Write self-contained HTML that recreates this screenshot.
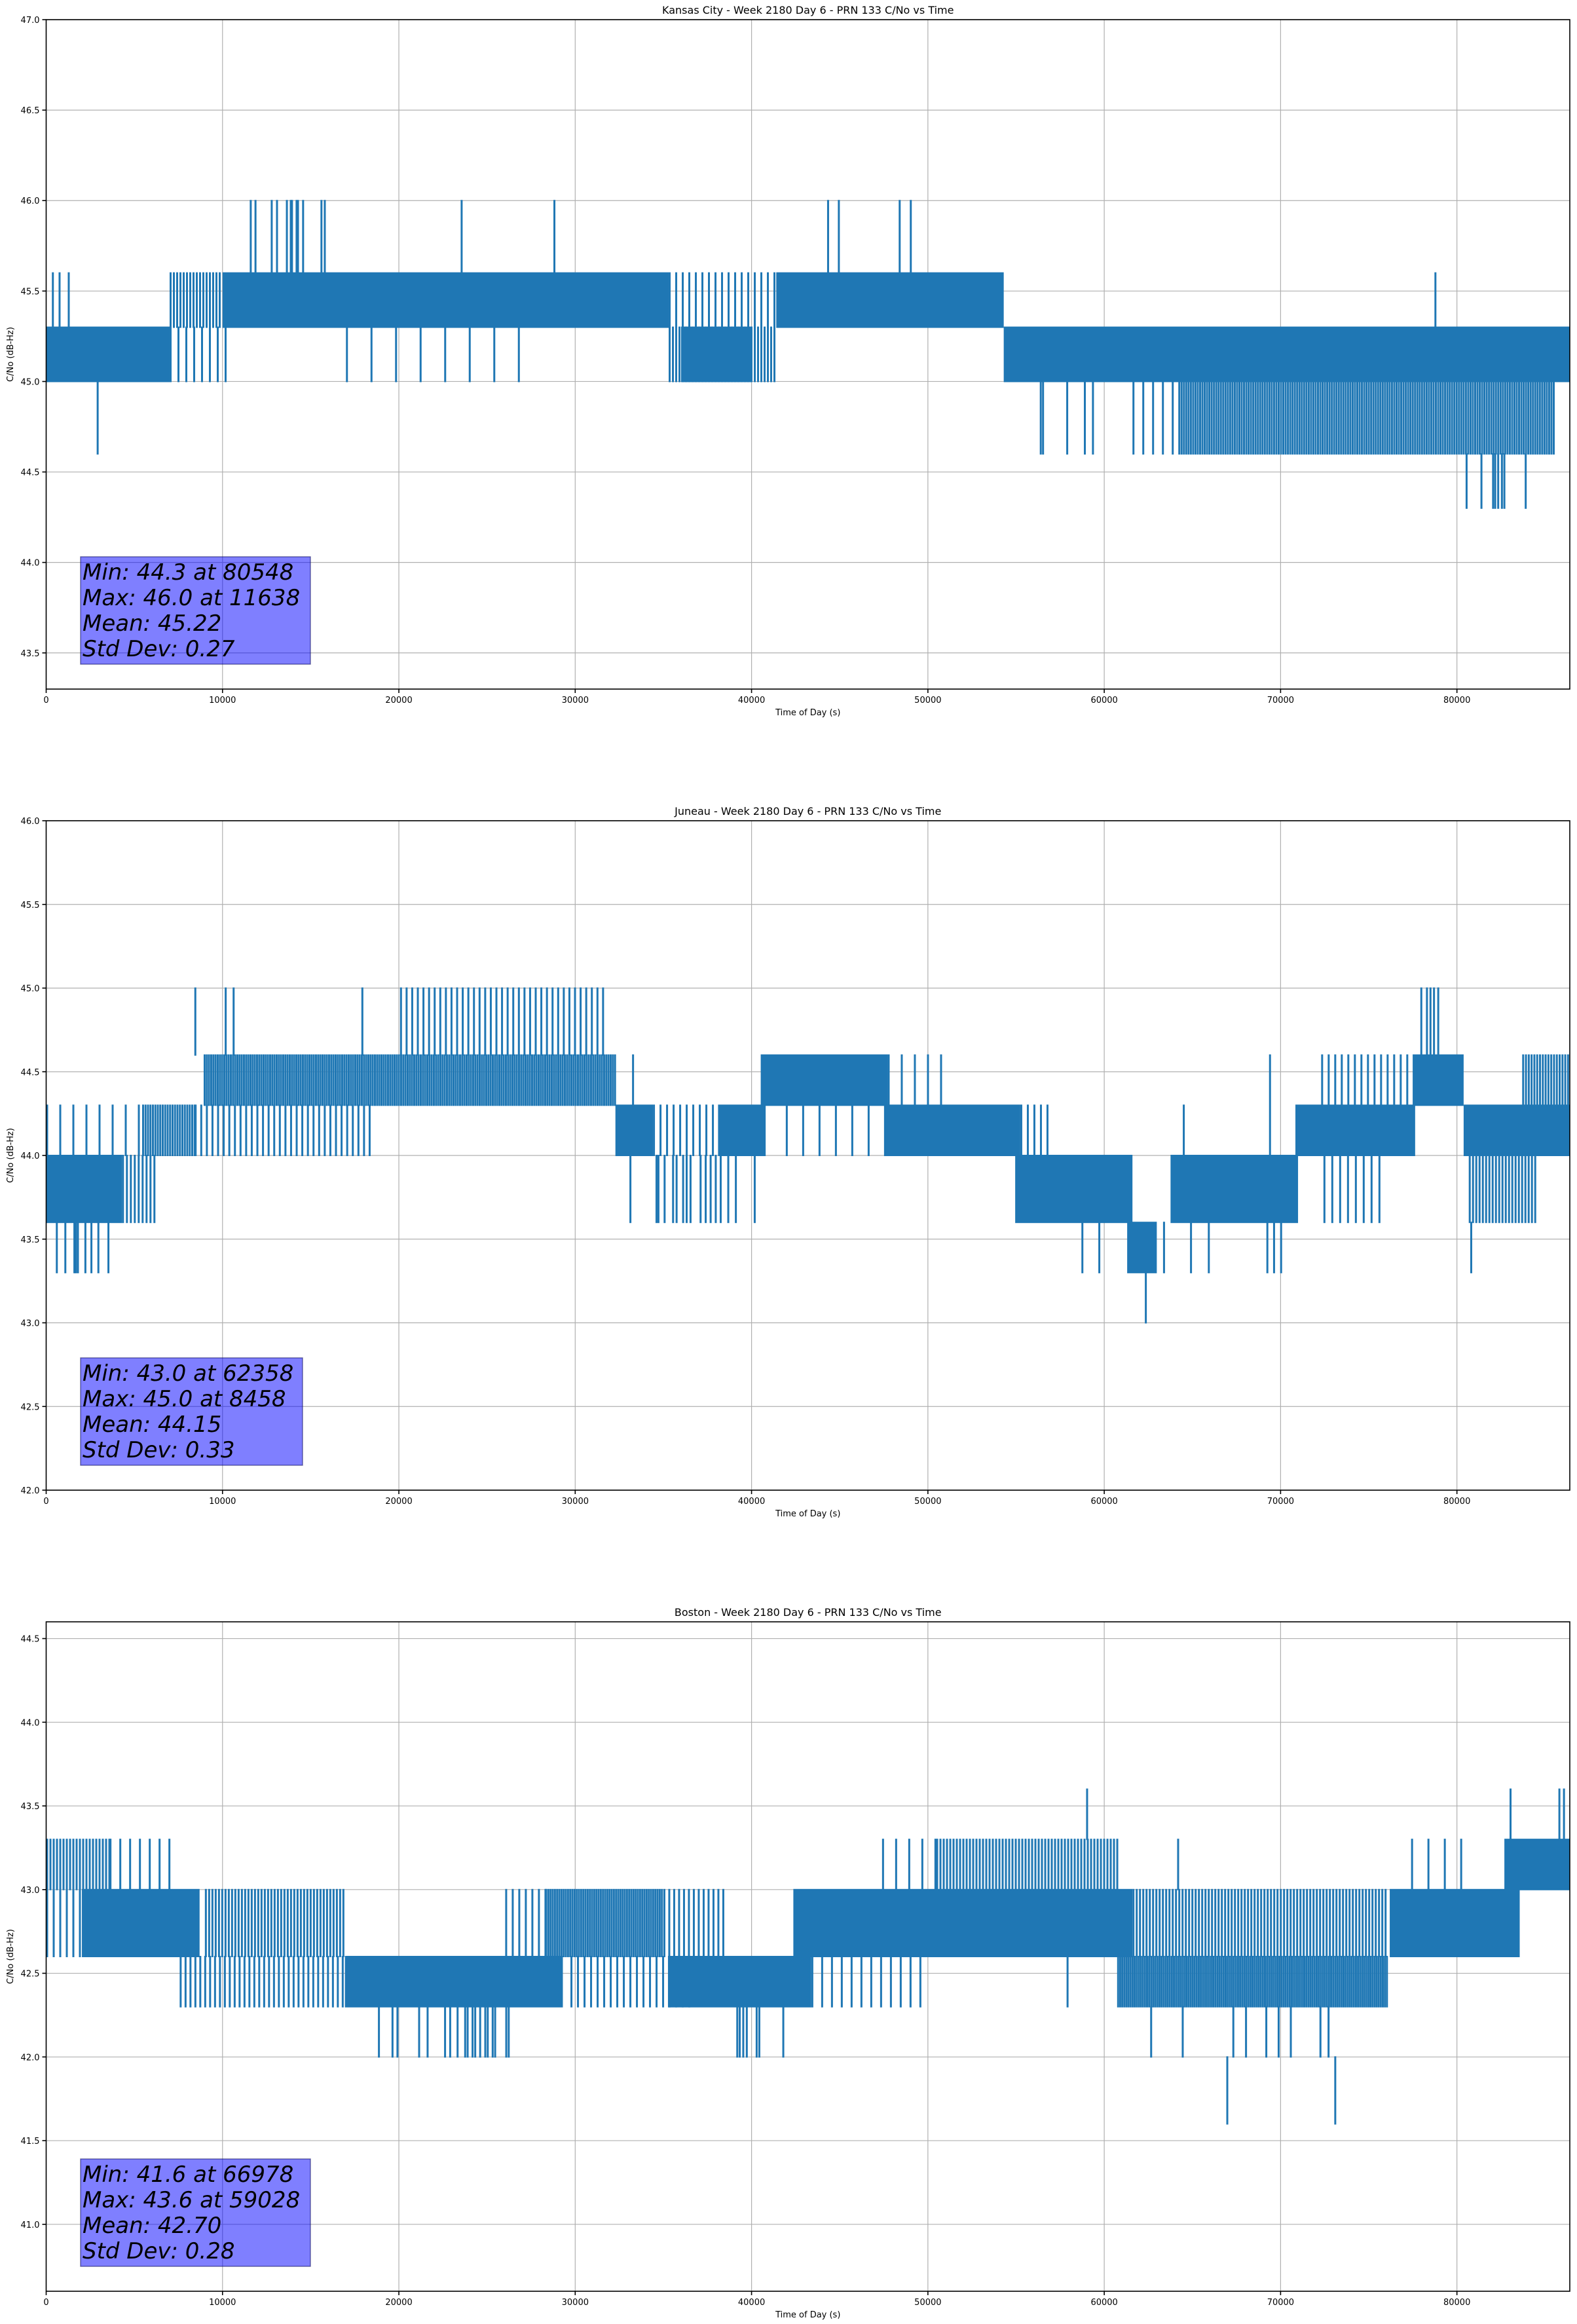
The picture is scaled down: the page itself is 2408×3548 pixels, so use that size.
<!DOCTYPE html>
<html><head><meta charset="utf-8"><style>
html,body{margin:0;padding:0;background:#fff;}
svg{display:block;font-family:"DejaVu Sans","Liberation Sans",sans-serif;}
</style></head><body>
<svg id="fig" width="2408" height="3548" xmlns="http://www.w3.org/2000/svg"></svg>
<script>
// ---- shared axis data ----
const xTicks = [0,10000,20000,30000,40000,50000,60000,70000,80000];
const xMax = 86400;

// ---- Kansas City ----
const kcTitle = "Kansas City - Week 2180 Day 6 - PRN 133 C/No vs Time";
const kcYLim = [43.3, 47.0];
const kcYTicks = [43.5,44.0,44.5,45.0,45.5,46.0,46.5,47.0];
const kcStats = ["Min: 44.3 at 80548","Max: 46.0 at 11638","Mean: 45.22","Std Dev: 0.27"];
const kcBands = [
 [0,7000,45.0,45.3,1],[7000,10000,45.3,45.6,0.6],[10000,35300,45.3,45.6,1],
 [7000,10500,45.0,45.3,0.25],[17000,27000,45.0,45.3,0.08],[35300,41400,45.0,45.3,0.6],
 [36000,40000,45.0,45.3,1],[35300,41400,45.3,45.6,0.3],[41400,54300,45.3,45.6,1],
 [54300,86400,45.0,45.3,1],[61600,64200,44.6,45.0,0.2],[64200,85600,44.6,45.0,0.85]
];
const kcSpikes = [
 [11600,45.6,46.0],[11870,45.6,46.0],[12790,45.6,46.0],[13090,45.6,46.0],[13650,45.6,46.0],
 [13870,45.6,46.0],[13940,45.6,46.0],[14200,45.6,46.0],[14280,45.6,46.0],[14570,45.6,46.0],
 [15610,45.6,46.0],[15800,45.6,46.0],[23560,45.6,46.0],[28820,45.6,46.0],[44340,45.6,46.0],
 [44950,45.6,46.0],[48400,45.6,46.0],[49030,45.6,46.0],
 [2920,44.6,45.0],[78780,45.3,45.6],[380,45.3,45.6],[760,45.3,45.6],[1280,45.3,45.6],
 [56400,44.6,45.0],[56530,44.6,45.0],[57900,44.6,45.0],[58900,44.6,45.0],[59360,44.6,45.0],
 [80548,44.3,44.6],[81390,44.3,44.6],[82050,44.3,44.6],[82170,44.3,44.6],[82340,44.3,44.6],
 [82550,44.3,44.6],[82690,44.3,44.6],[83900,44.3,44.6]
];

// ---- Juneau ----
const jnTitle = "Juneau - Week 2180 Day 6 - PRN 133 C/No vs Time";
const jnYLim = [42.0, 46.0];
const jnYTicks = [42.0,42.5,43.0,43.5,44.0,44.5,45.0,45.5,46.0];
const jnStats = ["Min: 43.0 at 62358","Max: 45.0 at 8458","Mean: 44.15","Std Dev: 0.33"];
const jnBands = [
 [0,4300,43.6,44.0,1],[4300,6340,43.6,44.0,0.5],[0,5440,44.0,44.3,0.15],[5440,8420,44.0,44.3,0.8],
 [8420,18360,44.0,44.3,0.35],[8930,32280,44.3,44.6,0.9],[20065,31710,44.6,45.0,0.35],
 [32280,34410,44.0,44.3,1],[34410,38100,44.0,44.3,0.3],[38100,40800,44.0,44.3,1],
 [40520,47720,44.3,44.6,1],[47720,51050,44.3,44.6,0.15],[41942,47580,44.0,44.3,0.12],
 [47580,55240,44.0,44.3,1],[55240,57110,44.0,44.3,0.3],[54950,61600,43.6,44.0,1],
 [61300,62980,43.3,43.6,1],[63760,70990,43.6,44.0,1],[70840,77630,44.0,44.3,1],
 [72430,75610,43.6,44.0,0.25],[72300,77490,44.3,44.6,0.3],[77490,80380,44.3,44.6,1],
 [80380,86400,44.0,44.3,1],[80670,84430,43.6,44.0,0.6],[83700,86400,44.3,44.6,0.7]
];
const jnSpikes = [
 [8458,44.6,45.0],[10180,44.6,45.0],[10630,44.6,45.0],[17930,44.6,45.0],
 [77980,44.6,45.0],[78300,44.6,45.0],[78500,44.6,45.0],[78700,44.6,45.0],[78940,44.6,45.0],
 [604,43.3,43.6],[1087,43.3,43.6],[1600,43.3,43.6],[1685,43.3,43.6],[1800,43.3,43.6],
 [2224,43.3,43.6],[2565,43.3,43.6],[2960,43.3,43.6],[3530,43.3,43.6],[58760,43.3,43.6],
 [59720,43.3,43.6],[63390,43.3,43.6],[64920,43.3,43.6],[65930,43.3,43.6],[69250,43.3,43.6],
 [69630,43.3,43.6],[70030,43.3,43.6],[80810,43.3,43.6],[62358,43.0,43.3],
 [33130,43.6,44.0],[34610,43.6,44.0],[34720,43.6,44.0],[35070,43.6,44.0],[35550,43.6,44.0],
 [35750,43.6,44.0],[36120,43.6,44.0],[36320,43.6,44.0],[36540,43.6,44.0],[37110,43.6,44.0],
 [37400,43.6,44.0],[37680,43.6,44.0],[37970,43.6,44.0],[38250,43.6,44.0],[38680,43.6,44.0],
 [39110,43.6,44.0],[40180,43.6,44.0],[33280,44.3,44.6],[69400,44.0,44.6],[64510,44.0,44.3]
];

// ---- Boston ----
const bsTitle = "Boston - Week 2180 Day 6 - PRN 133 C/No vs Time";
const bsYLim = [40.6, 44.6];
const bsYTicks = [41.0,41.5,42.0,42.5,43.0,43.5,44.0,44.5];
const bsStats = ["Min: 41.6 at 66978","Max: 43.6 at 59028","Mean: 42.70","Std Dev: 0.28"];
const bsBands = [
 [0,3590,43.0,43.3,0.6],[3590,7230,43.0,43.3,0.2],[0,2025,42.6,43.0,0.3],[2025,8700,42.6,43.0,1],
 [9000,16880,42.6,43.0,0.6],[7570,16940,42.3,42.6,0.4],[16940,29300,42.3,42.6,1],
 [26030,28300,42.6,43.0,0.3],[28300,35000,42.6,43.0,0.9],[35000,38530,42.6,43.0,0.4],
 [29730,36540,42.3,42.6,0.3],[35260,43390,42.3,42.6,1],[42370,61600,42.6,43.0,1],
 [43390,50030,42.3,42.6,0.2],[50470,60870,43.0,43.3,0.6],[47400,50470,43.0,43.3,0.15],
 [60730,76040,42.3,42.6,0.95],[61600,76040,42.6,43.0,0.6],[76190,83560,42.6,43.0,1],
 [77400,80700,43.0,43.3,0.12],[82690,86400,43.0,43.3,1]
];
const bsSpikes = [
 [18870,42.0,42.3],[19640,42.0,42.3],[19920,42.0,42.3],[21150,42.0,42.3],[21630,42.0,42.3],
 [22620,42.0,42.3],[22910,42.0,42.3],[23330,42.0,42.3],[23760,42.0,42.3],[23900,42.0,42.3],
 [24180,42.0,42.3],[24330,42.0,42.3],[24610,42.0,42.3],[24900,42.0,42.3],[25040,42.0,42.3],
 [25320,42.0,42.3],[25460,42.0,42.3],[26090,42.0,42.3],[26230,42.0,42.3],[39190,42.0,42.3],
 [39330,42.0,42.3],[39530,42.0,42.3],[39730,42.0,42.3],[40290,42.0,42.3],[40440,42.0,42.3],
 [41800,42.0,42.3],[62660,42.0,42.3],[64450,42.0,42.3],[67320,42.0,42.3],[68040,42.0,42.3],
 [69190,42.0,42.3],[69890,42.0,42.3],[70580,42.0,42.3],[72260,42.0,42.3],[72720,42.0,42.3],
 [66978,41.6,42.0],[73100,41.6,42.0],
 [59028,43.3,43.6],[83040,43.3,43.6],[85810,43.3,43.6],[86070,43.3,43.6],
 [64190,43.0,43.3],[57920,42.3,42.6]
];

const NS = "http://www.w3.org/2000/svg";
const svg = document.getElementById('fig');
const L = 70.5, R = 2397, H = 1022;
function mk(tag, attrs, parent){
  const e = document.createElementNS(NS, tag);
  for (const k in attrs) e.setAttribute(k, attrs[k]);
  (parent||svg).appendChild(e);
  return e;
}
function drawPlot(top, key, title, yLim, yTicks, bands, spikes, stats, boxW){
  const g = mk('g', {});
  
  
  const xs = t => L + (t / xMax) * (R - L);
  const ys = v => top + H - (v - yLim[0]) / (yLim[1] - yLim[0]) * H;
  const bottom = top + H;
  xTicks.forEach(t => {
    const l = mk('line', {x1:xs(t), x2:xs(t), y1:top, y2:bottom, stroke:'#b0b0b0', 'stroke-width':1.2}, g);
    
    
  });
  yTicks.forEach(v => {
    const l = mk('line', {x1:L, x2:R, y1:ys(v), y2:ys(v), stroke:'#b0b0b0', 'stroke-width':1.2}, g);
    
    
  });
  const dg = mk('g', {fill:'#1f77b4', stroke:'none'}, g);
  
  
  bands.forEach(b => {
    const x0 = xs(b[0]), x1 = xs(b[1]), y0 = ys(b[3]), y1 = ys(b[2]);
    if (b[4] >= 1) {
      const r = mk('rect', {x:x0, y:y0 - 1, width:x1 - x0, height:y1 - y0 + 2}, dg);
      
      
    } else {
      const step = 3 / b[4];
      for (let x = x0; x < x1 - 1; x += step) {
        const r = mk('rect', {x:x, y:y0 - 1, width:3, height:y1 - y0 + 2}, dg);
        
        
      }
    }
  });
  spikes.forEach(s => {
    const r = mk('rect', {x:xs(s[0]) - 1.5, y:ys(s[2]) - 1, width:3, height:ys(s[1]) - ys(s[2]) + 2}, dg);
    
    
  });
  const fr = mk('rect', {x:L, y:top, width:R - L, height:H, fill:'none', stroke:'#000', 'stroke-width':1.6}, g);
  
  
  xTicks.forEach(t => {
    mk('line', {x1:xs(t), x2:xs(t), y1:bottom, y2:bottom + 6, stroke:'#000', 'stroke-width':1.6}, g);
    const tx = mk('text', {x:xs(t), y:bottom + 21, 'font-size':13, 'text-anchor':'middle', fill:'#000'}, g);
    
    
    tx.textContent = String(t);
  });
  yTicks.forEach(v => {
    mk('line', {x1:L - 6, x2:L, y1:ys(v), y2:ys(v), stroke:'#000', 'stroke-width':1.6}, g);
    const tx = mk('text', {x:L - 10, y:ys(v) + 5, 'font-size':13, 'text-anchor':'end', fill:'#000'}, g);
    
    
    tx.textContent = v.toFixed(1);
  });
  const tt = mk('text', {x:(L + R) / 2, y:top - 9, 'font-size':16, 'text-anchor':'middle', fill:'#000'}, g);
  
  
  tt.textContent = title;
  const xl = mk('text', {x:(L + R) / 2, y:bottom + 40, 'font-size':13, 'text-anchor':'middle', fill:'#000'}, g);
  
  
  xl.textContent = 'Time of Day (s)';
  const cy = top + H / 2;
  const yl = mk('text', {x:20, y:cy, 'font-size':13, 'text-anchor':'middle', fill:'#000', transform:'rotate(-90 20 ' + cy + ')'}, g);
  
  
  yl.textContent = 'C/No (dB-Hz)';
  const bt = bottom - 202;
  const sb = mk('rect', {x:123, y:bt, width:boxW, height:164, fill:'rgba(0,0,255,0.5)', stroke:'rgba(0,0,80,0.5)', 'stroke-width':1.5}, g);
  
  
  stats.forEach((s, i) => {
    const tx = mk('text', {x:126, y:bt + 35 + i * 39, 'font-size':34, 'font-style':'italic', fill:'#000'}, g);
    
    
    tx.textContent = s;
  });
}
drawPlot(30, 'kansas-city', kcTitle, kcYLim, kcYTicks, kcBands, kcSpikes, kcStats, 351);
drawPlot(1253, 'juneau', jnTitle, jnYLim, jnYTicks, jnBands, jnSpikes, jnStats, 339);
drawPlot(2476, 'boston', bsTitle, bsYLim, bsYTicks, bsBands, bsSpikes, bsStats, 351);
</script>
</body></html>
